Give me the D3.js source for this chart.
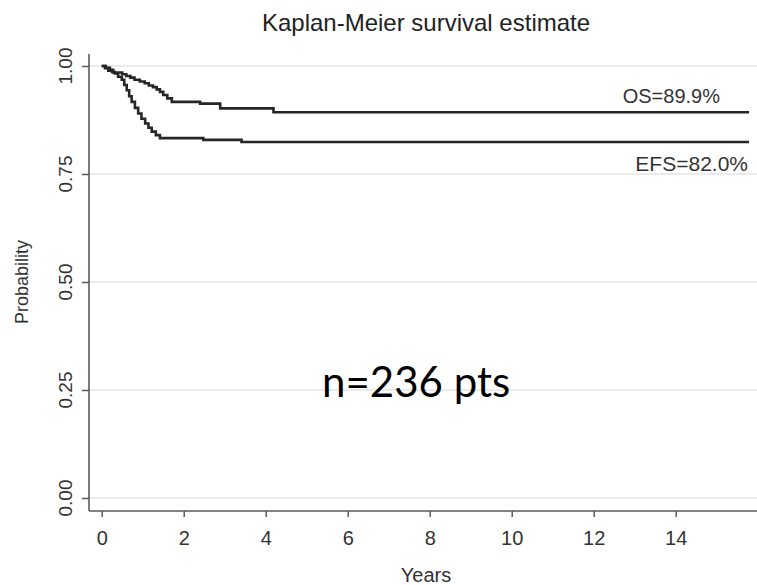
<!DOCTYPE html>
<html>
<head>
<meta charset="utf-8">
<script src="https://cdn.jsdelivr.net/npm/d3@7"></script>
<style>
  body { margin: 0; background: #fff; }
  svg { display: block; font-family: "Liberation Sans", Arial, sans-serif; }
</style>
</head>
<body>
<svg id="chart"></svg>
<script>
// Kaplan-Meier curves (years, survival probability)
const osTimes = [0, 0.1, 0.2, 0.28, 0.5, 0.6, 0.7, 0.8, 0.93, 1.05, 1.15, 1.25, 1.34, 1.42, 1.5, 1.6, 1.71, 2.4, 2.89, 4.19, 15.79];
const osSurv  = [1.0, 0.996, 0.991, 0.985, 0.981, 0.977, 0.973, 0.968, 0.964, 0.96, 0.955, 0.951, 0.946, 0.94, 0.933, 0.925, 0.917, 0.913, 0.902, 0.893, 0.893];

const efsTimes = [0, 0.08, 0.16, 0.25, 0.32, 0.4, 0.49, 0.55, 0.61, 0.67, 0.73, 0.81, 0.89, 0.97, 1.06, 1.14, 1.22, 1.32, 1.42, 2.48, 3.41, 15.79];
const efsSurv  = [1.0, 0.995, 0.989, 0.986, 0.983, 0.975, 0.968, 0.956, 0.944, 0.93, 0.917, 0.903, 0.89, 0.878, 0.867, 0.857, 0.848, 0.84, 0.833, 0.829, 0.824, 0.824];

const xTicks = [0, 2, 4, 6, 8, 10, 12, 14];
const yTicks = [0, 0.25, 0.5, 0.75, 1];

// Constants
const width = 757;
const height = 585;
const margin = {top: 54, right: 0, bottom: 74, left: 89};

const svg = d3.select("#chart")
    .attr("width", width)
    .attr("height", height);

// Scales
const xScale = d3.scaleLinear()
    .domain([0, 14])
    .range([101.7, 675.7]);

const yScale = d3.scaleLinear()
    .domain([0, 1])
    .range([498, 66]);

const axisColor = "#5a5a5a";
const textColor = "#333";

// Grid lines
svg.append("g")
  .selectAll("line")
  .data(yTicks)
  .enter()
    .append("line")
    .attr("x1", margin.left)
    .attr("x2", width)
    .attr("y1", d => yScale(d))
    .attr("y2", d => yScale(d))
    .attr("stroke", "#e4e4e4")
    .attr("stroke-width", 1.6);

// Axes
const xAxis = d3.axisBottom(xScale)
    .tickValues(xTicks)
    .tickSize(6)
    .tickSizeOuter(0)
    .tickPadding(14);

const yAxis = d3.axisLeft(yScale)
    .tickValues(yTicks)
    .tickSize(7)
    .tickSizeOuter(0)
    .tickFormat("");

const gx = svg.append("g")
    .attr("transform", `translate(0,${height - margin.bottom})`)
    .call(xAxis);
gx.select(".domain").remove();
gx.append("line")
    .attr("x1", margin.left).attr("x2", width)
    .attr("stroke", axisColor).attr("stroke-width", 1.6);
gx.selectAll(".tick line").attr("stroke", axisColor).attr("stroke-width", 1.5);
gx.selectAll(".tick text")
    .attr("fill", textColor)
    .attr("font-size", "20px")
    .attr("font-family", "Liberation Sans, Arial, sans-serif");

const gy = svg.append("g")
    .attr("transform", `translate(${margin.left},0)`)
    .call(yAxis);
gy.select(".domain").remove();
gy.append("line")
    .attr("y1", margin.top).attr("y2", height - margin.bottom)
    .attr("stroke", axisColor).attr("stroke-width", 1.6);
gy.selectAll(".tick line").attr("stroke", axisColor).attr("stroke-width", 1.5);

// rotated y tick labels
svg.append("g")
  .selectAll("text")
  .data(yTicks)
  .enter()
    .append("text")
    .attr("transform", d => `translate(72,${yScale(d)}) rotate(-90)`)
    .style("text-anchor", "middle")
    .attr("font-size", "19px")
    .attr("fill", textColor)
    .text(d3.format(".2f"));

// Curves
const line = d3.line()
    .x(d => xScale(d[0]))
    .y(d => yScale(d[1]))
    .curve(d3.curveStepAfter);

const series = [
  d3.zip(efsTimes, efsSurv),
  d3.zip(osTimes, osSurv)
];

svg.append("g")
  .selectAll("path")
  .data(series)
  .enter()
    .append("path")
    .attr("d", line)
    .attr("fill", "none")
    .attr("stroke", "#262626")
    .attr("stroke-width", 2.6);

// Curve labels
svg.append("text")
    .attr("x", 720)
    .attr("y", 103)
    .style("text-anchor", "end")
    .attr("font-size", "20px")
    .attr("fill", textColor)
    .text("OS=89.9%");

svg.append("text")
    .attr("x", 748)
    .attr("y", 171)
    .style("text-anchor", "end")
    .attr("font-size", "21px")
    .attr("fill", textColor)
    .text("EFS=82.0%");

// Titles
svg.append("text")
    .attr("x", 426)
    .attr("y", 31)
    .style("text-anchor", "middle")
    .attr("font-size", "24px")
    .attr("fill", "#222")
    .text("Kaplan-Meier survival estimate");

svg.append("text")
    .attr("x", 426)
    .attr("y", 582)
    .style("text-anchor", "middle")
    .attr("font-size", "20px")
    .attr("fill", textColor)
    .text("Years");

svg.append("text")
    .attr("transform", "translate(28,282) rotate(-90)")
    .style("text-anchor", "middle")
    .attr("font-size", "18px")
    .attr("fill", textColor)
    .text("Probability");

// Annotation
svg.append("text")
    .attr("x", 322)
    .attr("y", 397)
    .attr("font-family", "Lato, 'Open Sans', sans-serif")
    .attr("font-size", "42px")
    .attr("fill", "#000")
    .text("n=236 pts");
</script>
</body>
</html>
